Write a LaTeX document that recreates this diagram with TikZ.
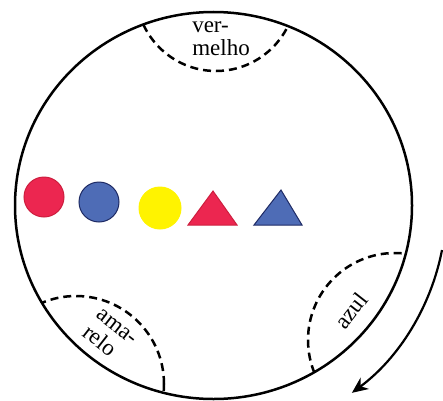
\documentclass[tikz,border=0pt]{standalone}
\usepackage{fontspec}
\setmainfont{Liberation Serif}
\usetikzlibrary{arrows.meta}
\definecolor{cRed}      {RGB}{236,38,80}
\definecolor{cRedEdge}  {RGB}{205,30,62}
\definecolor{cBlue}     {RGB}{78,108,182}
\definecolor{cBlueEdge} {RGB}{30,42,100}
\definecolor{cYellow}   {RGB}{255,243,0}
\tikzset{
  >={Stealth[length=16pt,width=14pt,inset=5pt]},
  rim/.style={draw,line width=2.5pt},
  zone/.style={line width=2.5pt,dash pattern=on 8pt off 5pt},
  lab/.style={font=\fontsize{23}{23}\selectfont,align=left,inner sep=0pt},
  disc/.style={circle,minimum size=40pt,inner sep=0pt,line width=1pt},
  redf/.style={fill=cRed,draw=cRedEdge},
  bluef/.style={fill=cBlue,draw=cBlueEdge},
  yelf/.style={fill=cYellow,draw=cYellow},
  turn/.style={->,line width=2.2pt},
}

\begin{document}
\begin{tikzpicture}[x=1pt,y=1pt]
  \useasboundingbox (0,0) rectangle (443,400);
  % outer ring
  \draw[rim] (213.5,194.5) ellipse [x radius=198.5,y radius=193.5];
  % dashed colour zones, cut off by the ring
  \begin{scope}
    \clip (213.5,194.5) ellipse [x radius=198.5,y radius=193.5];
    \draw[zone] (216,409) circle[radius=80];
    \draw[zone] (76,16) circle[radius=88];
    \draw[zone] (395,60) circle[radius=87];
  \end{scope}
  \node[lab] (vermelho) at (221,361) {ver-\\melho};
  \node[lab,rotate=-38] (amarelo) at (110,64) {ama-\\relo};
  \node[lab,rotate=52] (azul) at (351,89) {azul};
  % row of pieces
  \node[disc,redf] (c1) at (44,203) {};
  \node[disc,bluef] (c2) at (99,198) {};
  \node[disc,yelf,minimum size=42pt] (c3) at (160,192) {};
  \filldraw[redf,line width=1pt] (188,175) -- (213,209) -- (237,175) -- cycle;
  \filldraw[bluef,line width=1pt] (254,175) -- (281,210) -- (302,175) -- cycle;
  % turning direction
  \coordinate (arrS) at (442,150);
  \draw[turn] (arrS) arc[start angle=-11,end angle=-53.5,radius=233];
\end{tikzpicture}
\end{document}
